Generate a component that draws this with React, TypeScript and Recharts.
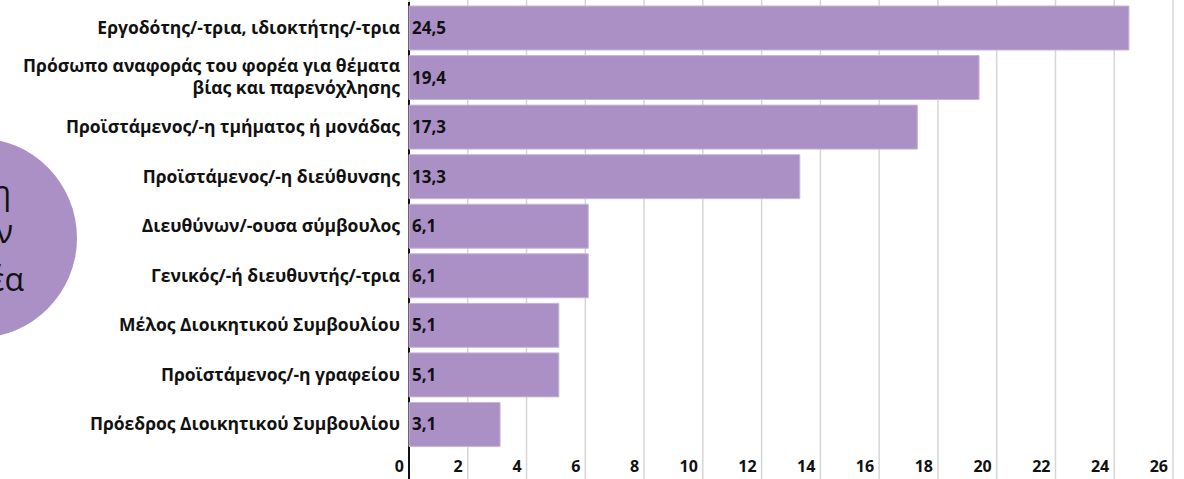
import React from "react";
import { BarChart, Bar, XAxis, YAxis, CartesianGrid, LabelList } from "recharts";

const categories = [
  "Εργοδότης/-τρια, ιδιοκτήτης/-τρια",
  "Πρόσωπο αναφοράς του φορέα για θέματα\nβίας και παρενόχλησης",
  "Προϊστάμενος/-η τμήματος ή μονάδας",
  "Προϊστάμενος/-η διεύθυνσης",
  "Διευθύνων/-ουσα σύμβουλος",
  "Γενικός/-ή διευθυντής/-τρια",
  "Μέλος Διοικητικού Συμβουλίου",
  "Προϊστάμενος/-η γραφείου",
  "Πρόεδρος Διοικητικού Συμβουλίου",
];
const values = [24.5, 19.4, 17.3, 13.3, 6.1, 6.1, 5.1, 5.1, 3.1];
const xTicks = [0, 2, 4, 6, 8, 10, 12, 14, 16, 18, 20, 22, 24, 26];
const circleLines = ["η", "ν", "έα"];

const data = categories.map((name, i) => ({ name, value: values[i] }));

const FONT = "'Open Sans', sans-serif";

const CategoryTick = (props: any) => {
  const { x, y, payload } = props;
  const lines = String(payload.value).split("\n");
  const lh = 22;
  const start = -((lines.length - 1) * lh) / 2;
  return (
    <text x={x - 1} y={y} textAnchor="end" fontFamily={FONT} fontWeight={700} fontSize={17.5} fill="#111">
      {lines.map((l, i) => (
        <tspan key={i} x={x - 1} y={y + start + i * lh} dy="0.35em">
          {l}
        </tspan>
      ))}
    </text>
  );
};

const ValueTick = (props: any) => {
  const { x, payload } = props;
  return (
    <text x={x - 5} y={472} textAnchor="end" fontFamily={FONT} fontWeight={700} fontSize={16} fill="#111">
      {payload.value}
    </text>
  );
};

export default function App() {
  return (
    <div style={{ position: "absolute", left: 0, top: 0, width: 1184, height: 479, background: "#fff", overflow: "hidden" }}>
      <div
        style={{
          position: "absolute",
          left: -123,
          top: 138,
          width: 200,
          height: 200,
          borderRadius: "50%",
          background: "#ab90c6",
        }}
      />
      {circleLines.map((t, i) => (
        <div
          key={i}
          style={{
            position: "absolute",
            right: 1184 - [11, 13, 24][i],
            top: [172, 211, 259][i],
            fontFamily: FONT,
            fontSize: 32,
            lineHeight: "40px",
            color: "#111",
            whiteSpace: "nowrap",
          }}
        >
          {t}
        </div>
      ))}
      <div style={{ position: "absolute", left: 0, top: 0 }}>
        <BarChart
          width={1184}
          height={479}
          data={data}
          layout="vertical"
          margin={{ top: 3, right: 11, left: 0, bottom: 0 }}
          barSize={44}
        >
          <CartesianGrid horizontal={false} stroke="#d6d6d6" strokeWidth={1.5} y={0} height={479} />
          <XAxis
            type="number"
            domain={[0, 26]}
            ticks={xTicks}
            axisLine={false}
            tickLine={false}
            height={30}
            tick={<ValueTick />}
            interval={0}
          />
          <YAxis
            type="category"
            dataKey="name"
            width={409}
            axisLine={false}
            tickLine={false}
            tick={<CategoryTick />}
            interval={0}
          />
          <Bar dataKey="value" fill="#ab90c6" stroke="#c7b5dc" strokeWidth={1} isAnimationActive={false}>
            <LabelList
              dataKey="value"
              position="insideLeft"
              offset={3}
              formatter={(v: any) => String(v).replace(".", ",")}
              style={{ fontFamily: FONT, fontWeight: 700, fontSize: 17, fill: "#111" }}
            />
          </Bar>
          <CartesianGrid
            horizontal={false}
            stroke="#111"
            strokeWidth={2}
            y={2}
            height={477}
            verticalCoordinatesGenerator={({ offset }: any) => [offset.left]}
          />
        </BarChart>
      </div>
    </div>
  );
}
